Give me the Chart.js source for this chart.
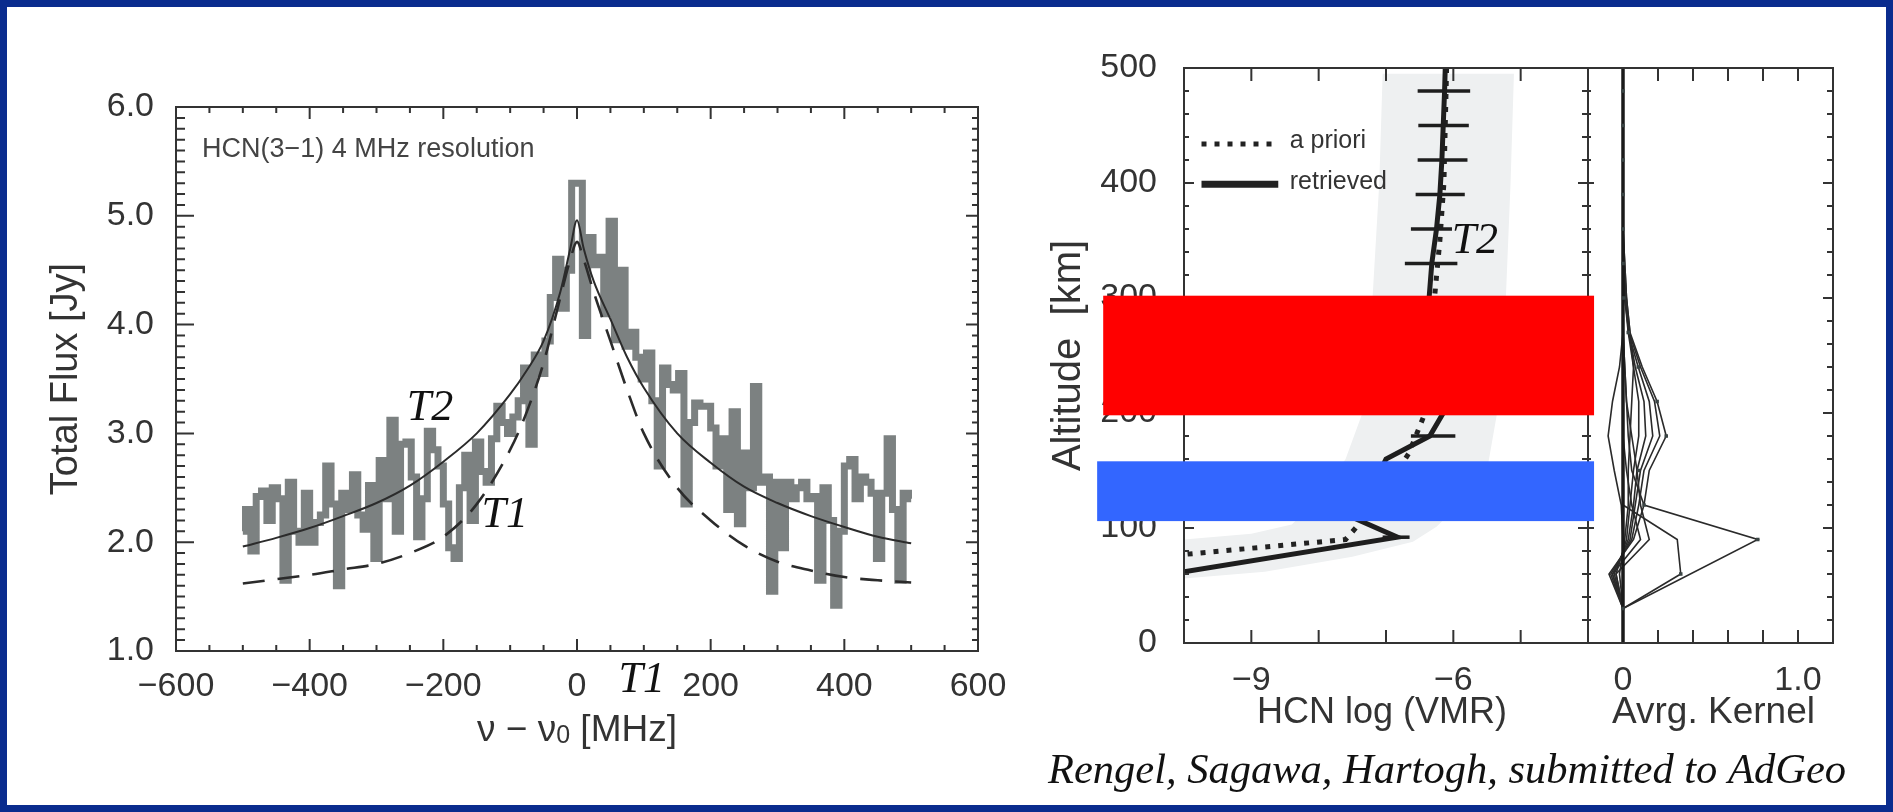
<!DOCTYPE html>
<html>
<head>
<meta charset="utf-8">
<script src="https://cdn.jsdelivr.net/npm/chart.js@4.4.1/dist/chart.umd.min.js"></script>
<style>
  html, body { margin: 0; padding: 0; width: 1893px; height: 812px; overflow: hidden; background: #0a2c8e; }
  #page { position: absolute; left: 7px; top: 7px; width: 1879px; height: 798px; background: #ffffff; }
  canvas { position: absolute; left: 0; top: 0; }
</style>
</head>
<body>
<div id="page"></div>
<canvas id="kernel" width="1893" height="812"></canvas>
<canvas id="profile" width="1893" height="812"></canvas>
<canvas id="spectrum" width="1893" height="812"></canvas>
<script>
// ---------- HCN(3-1) spectrum, 8 MHz channel grid ----------
const specStart = -500;   // MHz, first channel centre
const specStep = 8;       // MHz per channel
const specFlux = [
  2.10, 2.30, 1.92, 2.42, 2.47, 2.20, 2.50, 2.40, 1.65, 2.55,
  2.10, 2.00, 2.45, 2.00, 2.18, 2.25, 2.70, 2.35, 1.60, 2.45,
  2.30, 2.62, 2.25, 2.12, 2.52, 1.85, 2.75, 2.40, 3.12, 2.10,
  2.90, 2.92, 2.60, 2.05, 2.40, 3.02, 2.85, 2.70, 2.35, 1.95,
  1.85, 2.50, 2.80, 2.20, 2.92, 2.65, 2.55, 2.95, 3.25, 3.10,
  3.00, 3.15, 3.30, 3.60, 2.90, 3.72, 3.55, 3.85, 4.25, 4.60,
  4.15, 4.50, 5.30, 5.30, 3.90, 4.80, 4.55, 4.62, 4.10, 4.95,
  3.86, 4.50, 3.80, 3.93, 3.70, 3.50, 3.74, 3.30, 2.70, 3.60,
  3.45, 3.40, 3.55, 2.35, 3.10, 3.28, 3.25, 3.25, 3.05, 2.70,
  2.95, 2.30, 3.20, 2.17, 2.82, 2.50, 3.43, 2.55, 2.60, 1.55,
  2.55, 1.95, 2.55, 2.40, 2.50, 2.55, 2.40, 2.42, 1.65, 2.50,
  2.20, 1.42, 2.10, 2.70, 2.76, 2.40, 2.60, 2.55, 2.45, 1.85,
  2.45, 2.95, 2.30, 1.65, 2.45, 2.40
];

// Model line shapes for the two temperature profiles (Jy)
const modelFreq = [-500, -450, -400, -350, -300, -250, -200, -150, -100, -75, -50, -25, -10, 0, 10, 25, 50, 75, 100, 150, 200, 250, 300, 350, 400, 450, 500];
const modelT2   = [1.96, 2.04, 2.13, 2.24, 2.36, 2.52, 2.74, 3.00, 3.36, 3.58, 3.85, 4.30, 4.70, 4.96, 4.70, 4.40, 4.05, 3.70, 3.42, 3.00, 2.73, 2.51, 2.36, 2.24, 2.14, 2.05, 1.99];
const modelT1   = [1.62, 1.66, 1.70, 1.75, 1.80, 1.90, 2.05, 2.35, 2.85, 3.20, 3.65, 4.25, 4.60, 4.76, 4.60, 4.30, 3.85, 3.40, 3.00, 2.50, 2.20, 1.97, 1.82, 1.74, 1.68, 1.65, 1.63];

// ---------- HCN vertical profile (altitude km, log VMR) ----------
const retAlt  = [500, 480, 450, 420, 390, 360, 330, 300, 240, 200, 180, 160, 130, 108, 92, 62];
const retVmr  = [-6.12, -6.13, -6.15, -6.17, -6.20, -6.25, -6.32, -6.36, -6.30, -6.15, -6.35, -7.00, -7.25, -7.45, -6.83, -10.0];
const aprAlt  = [500, 400, 350, 300, 250, 200, 165, 130, 100, 90, 77];
const aprVmr  = [-6.10, -6.14, -6.20, -6.28, -6.34, -6.42, -6.66, -7.05, -7.45, -7.60, -10.0];
const errAlt  = [480, 450, 420, 390, 360, 330, 300, 270, 240, 210, 180, 150, 120, 92];
const errLo   = [-6.53, -6.52, -6.53, -6.56, -6.63, -6.72, -6.75, -6.80, -6.75, -6.70, -6.63, -7.40, -7.60, -7.05];
const errHi   = [-5.75, -5.77, -5.79, -5.83, -6.02, -5.94, -5.95, -5.95, -5.90, -5.90, -5.97, -6.60, -6.90, -6.65];
// a priori uncertainty envelope: upper/left edge and lower/right edge
const envLeftAlt  = [495, 400, 300, 200, 160, 125, 103, 95, 90];
const envLeftVmr  = [-7.05, -7.10, -7.20, -7.35, -7.60, -8.00, -8.40, -9.00, -10.0];
const envRightAlt = [495, 400, 300, 200, 150, 124, 101, 88, 75, 62, 56];
const envRightVmr = [-5.10, -5.15, -5.22, -5.35, -5.50, -5.85, -6.25, -6.60, -7.50, -8.80, -10.0];

// ---------- averaging kernels ----------
const kernelAlt = [0, 30, 60, 90, 120, 150, 180, 210, 240, 270, 300, 330, 360, 390, 420, 450, 480, 500];
const kernels = [
  [0, 0, null, 0.77, 0.12, 0.05, 0.03, 0.02, 0.01, 0, 0, 0, 0, 0, 0, 0, 0, 0],
  [0, 0, 0.33, 0.31, 0, 0, 0, 0, 0, 0, 0, 0, 0, 0, 0, 0, 0, 0],
  [0, 0, -0.04, 0.15, 0.10, 0.08, 0.05, 0.02, 0.01, 0, 0, 0, 0, 0, 0, 0, 0, 0],
  [0, 0, 0, 0, -0.01, -0.05, -0.085, -0.06, -0.02, 0, 0, 0, 0, 0, 0, 0, 0, 0],
  [0, 0, -0.08, 0.06, 0.12, 0.15, 0.247, 0.195, 0.11, 0.04, 0.02, 0.01, 0, 0, 0, 0, 0, 0],
  [0, 0, -0.07, 0.05, 0.09, 0.12, 0.21, 0.18, 0.10, 0.035, 0.015, 0, 0, 0, 0, 0, 0, 0],
  [0, 0, -0.06, 0.04, 0.07, 0.10, 0.17, 0.15, 0.087, 0.03, 0.01, 0, 0, 0, 0, 0, 0, 0],
  [0, 0, -0.05, 0.03, 0.06, 0.08, 0.13, 0.12, 0.07, 0.034, 0.01, 0, 0, 0, 0, 0, 0, 0],
  [0, 0, -0.04, 0.02, 0.04, 0.06, 0.09, 0.09, 0.06, 0.03, 0.019, 0.005, 0, 0, 0, 0, 0, 0],
  [0, 0, -0.02, 0.01, 0.03, 0.03, 0.04, 0.05, 0.06, 0.04, 0.02, 0.01, 0, 0, 0, 0, 0, 0],
  [0, 0, -0.06, 0.10, 0.05, 0.02, 0, 0, 0, 0, 0, 0, 0, 0, 0, 0, 0, 0]
];
const diagAlt = [480, 450, 420, 390, 360, 330, 300, 270, 240, 210, 180, 150, 120, 90, 60, 30];
const diagVal = [0, 0, 0, 0, 0, 0, 0.005, 0.03, 0.087, 0.195, 0.247, 0.09, 0.12, 0.77, 0.33, 0];

// ---------- shared styling ----------
const INK = '#333333';
const SANS = '"Liberation Sans", Arial, sans-serif';
const SERIF = '"Liberation Serif", "DejaVu Serif", serif';
const TICK_FONT = { family: SANS, size: 34 };
const W = 1893, H = 812;

function range(a, b, s) { const r = []; for (let v = a; v <= b + 1e-9; v += s) r.push(+v.toFixed(6)); return r; }
function signed(v) { return (v < 0 ? '\u2212' : '') + Math.abs(v); }
function pts(xs, ys) { return xs.map((x, i) => ({ x: x, y: ys[i] })); }

function text(ctx, s, x, y, font, opts = {}) {
  ctx.save();
  ctx.font = font;
  ctx.fillStyle = opts.color || INK;
  ctx.textAlign = opts.align || 'center';
  ctx.textBaseline = opts.baseline || 'middle';
  ctx.translate(x, y);
  if (opts.rot) ctx.rotate(opts.rot);
  ctx.fillText(s, 0, 0);
  ctx.restore();
}

// box frame with inward ticks on the four sides
function framePlugin(spec) {
  return {
    id: 'frame',
    afterDatasetsDraw(chart) {
      const { ctx, chartArea: a, scales } = chart;
      const xs = scales.x, ys = scales.y;
      ctx.save();
      ctx.strokeStyle = INK;
      ctx.lineWidth = 2;
      ctx.beginPath();
      const seg = (x1, y1, x2, y2) => { ctx.moveTo(x1, y1); ctx.lineTo(x2, y2); };
      (spec.x || []).forEach(([vals, len]) => vals.forEach(v => {
        const p = xs.getPixelForValue(v);
        seg(p, a.bottom, p, a.bottom - len);
        seg(p, a.top, p, a.top + len);
      }));
      (spec.y || []).forEach(([vals, lenL, lenR]) => vals.forEach(v => {
        const p = ys.getPixelForValue(v);
        if (lenL) seg(a.left, p, a.left + lenL, p);
        if (lenR) seg(a.right, p, a.right - lenR, p);
      }));
      ctx.stroke();
      ctx.strokeRect(a.left, a.top, a.right - a.left, a.bottom - a.top);
      ctx.restore();
    }
  };
}

const baseOptions = {
  responsive: false,
  animation: false,
  devicePixelRatio: 1,
  plugins: { legend: { display: false }, tooltip: { enabled: false } },
  elements: { point: { radius: 0 } }
};

// ================= spectrum =================
const spectrumLabels = {
  id: 'spectrumLabels',
  afterDraw(chart) {
    const { ctx, chartArea: a, scales: { x, y } } = chart;
    text(ctx, 'HCN(3\u22121) 4 MHz resolution', x.getPixelForValue(-561), y.getPixelForValue(5.61), '27px ' + SANS, { align: 'left', color: '#444444' });
    const tFont = 'italic 44px ' + SERIF;
    text(ctx, 'T2', x.getPixelForValue(-220), y.getPixelForValue(3.23), tFont, { color: '#111111' });
    text(ctx, 'T1', x.getPixelForValue(-108), y.getPixelForValue(2.25), tFont, { color: '#111111' });
    text(ctx, 'T1', x.getPixelForValue(97), y.getPixelForValue(0.733), tFont, { color: '#111111' });
    text(ctx, 'Total Flux [Jy]', a.left - 109, (a.top + a.bottom) / 2, '38px ' + SANS, { rot: -Math.PI / 2 });
    // frequency offset title with small subscript zero
    ctx.save();
    const big = '37px ' + SANS, small = '25px ' + SANS;
    const p1 = '\u03bd \u2212 \u03bd', p2 = '0', p3 = ' [MHz]';
    ctx.font = big; const w1 = ctx.measureText(p1).width, w3 = ctx.measureText(p3).width;
    ctx.font = small; const w2 = ctx.measureText(p2).width;
    const cx = x.getPixelForValue(0), by = a.bottom + 90;
    let sx = cx - (w1 + w2 + w3) / 2;
    ctx.fillStyle = INK; ctx.textBaseline = 'alphabetic'; ctx.textAlign = 'left';
    ctx.font = big; ctx.fillText(p1, sx, by); sx += w1;
    ctx.font = small; ctx.fillText(p2, sx, by + 2); sx += w2;
    ctx.font = big; ctx.fillText(p3, sx, by);
    ctx.restore();
  }
};

new Chart(document.getElementById('spectrum'), {
  type: 'line',
  data: {
    datasets: [
      { label: 'T2 model', data: pts(modelFreq, modelT2), borderColor: '#2b2b2b', borderWidth: 2, cubicInterpolationMode: 'monotone', order: 1 },
      { label: 'T1 model', data: pts(modelFreq, modelT1), borderColor: '#2b2b2b', borderWidth: 2.6, borderDash: [22, 13], cubicInterpolationMode: 'monotone', order: 2 },
      { label: 'HCN(3-1)', data: specFlux.map((v, i) => ({ x: specStart + i * specStep, y: v })), borderColor: '#7c8181', borderWidth: 7, stepped: 'middle', borderJoinStyle: 'miter', order: 3 }
    ]
  },
  options: Object.assign({}, baseOptions, {
    layout: { padding: { left: 0, top: 107, right: W - 978, bottom: H - 651 - 60 } },
    scales: {
      x: {
        type: 'linear', min: -600, max: 600,
        grid: { display: false }, border: { display: false },
        ticks: { stepSize: 200, autoSkip: false, maxRotation: 0, padding: 7, color: INK, font: TICK_FONT, callback: v => signed(v) },
        afterFit(s) { s.height = 60; }
      },
      y: {
        type: 'linear', min: 1, max: 6,
        grid: { display: false }, border: { display: false },
        ticks: { stepSize: 1, padding: 14, color: INK, font: TICK_FONT, callback: v => v.toFixed(1) },
        afterFit(s) { s.width = 176; }
      }
    }
  }),
  plugins: [framePlugin({
    x: [[range(-550, 550, 50), 6], [range(-400, 400, 200), 12]],
    y: [[range(1.1, 5.9, 0.1), 9, 6], [range(2, 5, 1), 18, 12]]
  }), spectrumLabels]
});

// ================= altitude profile =================
const boxes = [
  { alt: [198, 302], vmr: [-11.2, -3.91], color: '#ff0000' },
  { alt: [106, 158], vmr: [-11.29, -3.91], color: '#3366ff' }
];

const profileLabels = {
  id: 'profileLabels',
  afterDraw(chart) {
    const { ctx, chartArea: a, scales: { x, y } } = chart;
    // legend
    const lf = '25px ' + SANS;
    ctx.save();
    ctx.strokeStyle = '#222222';
    ctx.lineWidth = 5; ctx.setLineDash([5, 8]);
    ctx.beginPath(); ctx.moveTo(x.getPixelForValue(-9.74), y.getPixelForValue(434)); ctx.lineTo(x.getPixelForValue(-8.64), y.getPixelForValue(434)); ctx.stroke();
    ctx.lineWidth = 7; ctx.setLineDash([]);
    ctx.beginPath(); ctx.moveTo(x.getPixelForValue(-9.74), y.getPixelForValue(399)); ctx.lineTo(x.getPixelForValue(-8.60), y.getPixelForValue(399)); ctx.stroke();
    ctx.restore();
    text(ctx, 'a priori', x.getPixelForValue(-8.43), y.getPixelForValue(436), lf, { align: 'left' });
    text(ctx, 'retrieved', x.getPixelForValue(-8.43), y.getPixelForValue(401), lf, { align: 'left' });
    text(ctx, 'T2', x.getPixelForValue(-5.68), y.getPixelForValue(349), 'italic 44px ' + SERIF, { color: '#111111' });
    text(ctx, 'Altitude  [km]', a.left - 115, y.getPixelForValue(250), '40px ' + SANS, { rot: -Math.PI / 2 });
    text(ctx, 'HCN log (VMR)', (a.left + a.right) / 2 - 4, a.bottom + 70, '36px ' + SANS);
    // highlighted altitude bands
    boxes.forEach(b => {
      const x0 = x.getPixelForValue(b.vmr[0]), x1 = x.getPixelForValue(b.vmr[1]);
      const y0 = y.getPixelForValue(b.alt[1]), y1 = y.getPixelForValue(b.alt[0]);
      ctx.fillStyle = b.color;
      ctx.fillRect(x0, y0, x1 - x0, y1 - y0);
    });
    text(ctx, 'Rengel, Sagawa, Hartogh, submitted to AdGeo', a.right + 258, a.bottom + 129, 'italic 42.5px ' + SERIF, { align: 'right', color: '#111111' });
  }
};

const profileSets = [
  { label: 'envelope', data: pts(envLeftVmr, envLeftAlt).concat(pts(envRightVmr, envRightAlt).reverse()), borderWidth: 0, borderColor: 'rgba(0,0,0,0)', backgroundColor: '#eef0f1', fill: 'shape', order: 10 },
  { label: 'a priori', data: pts(aprVmr, aprAlt), borderColor: '#222222', borderWidth: 5, borderDash: [5, 8], order: 5 },
  { label: 'retrieved', data: pts(retVmr, retAlt), borderColor: '#1e1e1e', borderWidth: 5, borderJoinStyle: 'miter', order: 3 }
].concat(errAlt.map((h, i) => ({
  label: 'error ' + h, data: [{ x: errLo[i], y: h }, { x: errHi[i], y: h }], borderColor: '#1e1e1e', borderWidth: 3.5, order: 2
})));

new Chart(document.getElementById('profile'), {
  type: 'line',
  data: { datasets: profileSets },
  options: Object.assign({}, baseOptions, {
    layout: { padding: { left: 1040, top: 68, right: W - 1588, bottom: H - 643 - 60 } },
    scales: {
      x: {
        type: 'linear', min: -10, max: -4,
        grid: { display: false }, border: { display: false },
        ticks: { stepSize: 1, autoSkip: false, maxRotation: 0, padding: 9, color: INK, font: TICK_FONT, callback: v => (v === -9 || v === -6) ? signed(v) : '' },
        afterFit(s) { s.height = 60; }
      },
      y: {
        type: 'linear', min: 0, max: 500,
        grid: { display: false }, border: { display: false },
        ticks: { stepSize: 100, padding: 19, color: INK, font: TICK_FONT },
        afterFit(s) { s.width = 144; }
      }
    }
  }),
  plugins: [framePlugin({
    x: [[range(-9, -5, 1), 13]],
    y: [[range(20, 480, 20), 5, 6], [range(100, 400, 100), 10, 10]]
  }), profileLabels]
});

// ================= averaging kernels =================
const kernelLabels = {
  id: 'kernelLabels',
  afterDraw(chart) {
    const { ctx, chartArea: a } = chart;
    text(ctx, 'Avrg. Kernel', (a.left + a.right) / 2 + 3, a.bottom + 70, '37px ' + SANS);
  }
};

const kernelSets = kernels.map((k, i) => ({
  label: 'kernel ' + i, data: pts(k, kernelAlt), borderColor: '#2a2a2a', borderWidth: 1.6, spanGaps: true, order: 3
})).concat([
  { label: 'zero', data: [{ x: 0, y: 0 }, { x: 0, y: 500 }], borderColor: '#1a1a1a', borderWidth: 3.5, order: 2 },
  { label: 'diagonal', data: pts(diagVal, diagAlt), showLine: false, pointStyle: 'rect', pointRadius: 2.5, pointBackgroundColor: '#3a4444', pointBorderWidth: 0, order: 1 }
]);

new Chart(document.getElementById('kernel'), {
  type: 'line',
  data: { datasets: kernelSets },
  options: Object.assign({}, baseOptions, {
    layout: { padding: { left: 1588, top: 68, right: W - 1833, bottom: H - 643 - 60 } },
    scales: {
      x: {
        type: 'linear', min: -0.2, max: 1.2,
        grid: { display: false }, border: { display: false },
        ticks: { stepSize: 0.2, autoSkip: false, maxRotation: 0, padding: 9, color: INK, font: TICK_FONT,
          callback: v => Math.abs(v) < 1e-6 ? '0' : (Math.abs(v - 1) < 1e-6 ? '1.0' : '') },
        afterFit(s) { s.height = 60; }
      },
      y: { type: 'linear', min: 0, max: 500, display: false }
    }
  }),
  plugins: [framePlugin({
    x: [[range(0.2, 1.0, 0.2), 13]],
    y: [[range(20, 480, 20), 3, 6], [range(100, 400, 100), 6, 10]]
  }), kernelLabels]
});
</script>
</body>
</html>
